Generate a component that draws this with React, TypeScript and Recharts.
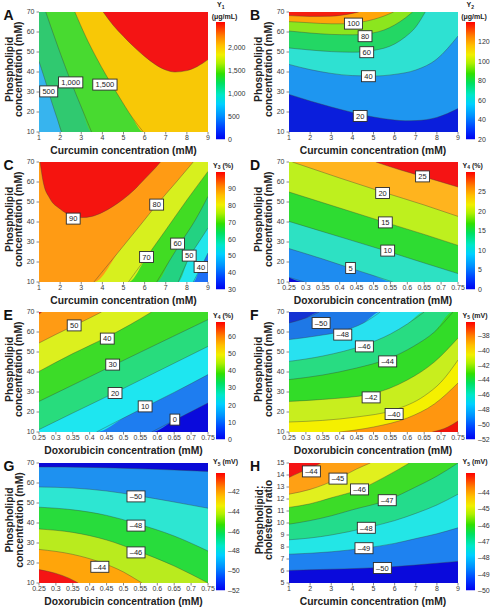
import React from 'react';
import { ComposedChart, Area, Line, Scatter, Bar, XAxis, YAxis } from 'recharts';

type Pt = [number, number];
type Lbl = { x: number; y: number; v: number };

// ---------- shared axis ticks ----------
const curcuminTicks = [1, 2, 3, 4, 5, 6, 7, 8, 9];
const doxTicks = [0.25, 0.3, 0.35, 0.4, 0.45, 0.5, 0.55, 0.6, 0.65, 0.7, 0.75];
const lipidTicks = [10, 20, 30, 40, 50, 60, 70];
const ratioTicks = [5, 6, 7, 8, 9, 10, 11, 12, 13, 14, 15];

// ---------- A: Y1 (μg/mL) ----------
const aLevels = [500, 1000, 1500, 2000];
const aC500: Pt[] = [[1, 45.3], [1.3, 35.5], [1.6, 25], [1.85, 17], [2.07, 10]];
const aC1000: Pt[] = [[1.32, 70], [1.9, 52.5], [2.5, 35.5], [3, 22.5], [3.49, 10]];
const aC1500: Pt[] = [[2.7, 70], [3.2, 58], [3.7, 47.5], [4.2, 38], [4.8, 27.5], [5.4, 17.5], [5.94, 10]];
const aC2000: Pt[] = [[4.04, 70], [4.5, 63.5], [5, 57.8], [5.5, 52.5], [6, 47.8], [6.5, 43.8], [7, 41], [7.44, 40], [8, 40.7], [8.5, 42.8], [9, 46.2]];
const aLabels: Lbl[] = [{ x: 1.46, y: 30.3, v: 500 }, { x: 2.5, y: 34.8, v: 1000 }, { x: 4.12, y: 33.7, v: 1500 }];
const aBarTicks = [0, 500, 1000, 1500, 2000];

// ---------- B: Y2 (μg/mL) ----------
const bLevels = [20, 40, 60, 80, 100, 120];
const bC20: Pt[] = [[1, 28.8], [2, 25.5], [3, 22.5], [4, 19.8], [5, 17.5], [6, 16], [6.5, 15.6], [7, 15.7], [8, 17.3], [9, 21.7]];
const bC40: Pt[] = [[1, 43.8], [2, 41.2], [3, 39.3], [4, 38.2], [5, 38], [6, 38.8], [7, 41], [8, 46.5], [9, 58]];
const bC60: Pt[] = [[1, 52], [2, 51], [3, 50.2], [4, 49.9], [5, 50.8], [6, 54], [6.5, 57.5], [7, 62.5], [7.45, 70]];
const bC80: Pt[] = [[1, 60.5], [2, 59.5], [3, 58.8], [4, 58.6], [5, 59.6], [5.5, 61], [6, 63.5], [6.5, 67], [6.85, 70]];
const bC100: Pt[] = [[1, 65.2], [2, 64.6], [3, 64.1], [3.5, 64.1], [4, 64.4], [4.5, 65.1], [5, 66.3], [5.5, 68], [5.95, 70]];
const bC120: Pt[] = [[1, 68.2], [2, 67.8], [3, 67.9], [3.5, 68.4], [4, 69.3], [4.3, 70]];
const bLabels: Lbl[] = [{ x: 4.05, y: 64.2, v: 100 }, { x: 4.6, y: 57.9, v: 80 }, { x: 4.68, y: 49.9, v: 60 }, { x: 4.76, y: 37.9, v: 40 }, { x: 4.37, y: 18, v: 20 }];
const bBarTicks = [20, 40, 60, 80, 100, 120];

// ---------- C: Y3 (%) ----------
const cLevels = [40, 50, 60, 70, 80, 90];
const cC40: Pt[] = [[8.3, 10], [8.6, 16], [9, 24.5]];
const cC50: Pt[] = [[7.59, 10], [8.1, 22], [8.6, 30.5], [9, 37]];
const cC60: Pt[] = [[6.57, 10], [7.2, 21], [7.7, 29.5], [8.4, 41], [9, 52.8]];
const cC70: Pt[] = [[5.23, 10], [6.09, 22.5], [7, 36], [8, 51], [9, 65.3]];
const cC80: Pt[] = [[3.6, 10], [4.8, 25.5], [5.8, 38.5], [6.6, 49], [7.5, 60], [8.3, 70]];
const cC90: Pt[] = [[1.05, 70], [1.2, 60], [1.5, 52], [2, 46.5], [2.5, 43.3], [3, 42.2], [3.5, 42.8], [4, 44.8], [4.5, 47.8], [5, 51.5], [5.5, 56], [6, 61.5], [6.5, 67], [6.75, 70]];
const cLabels: Lbl[] = [{ x: 2.62, y: 41.7, v: 90 }, { x: 6.57, y: 48.7, v: 80 }, { x: 6.09, y: 22.5, v: 70 }, { x: 7.56, y: 29.2, v: 60 }, { x: 8.11, y: 23.2, v: 50 }, { x: 8.67, y: 17.5, v: 40 }];
const cBarTicks = [30, 40, 50, 60, 70, 80, 90];

// ---------- D: Y4 (%) ----------
const dLevels = [0, 5, 10, 15, 20, 25];
const dC0: Pt[] = [[0.25, 12.3], [0.296, 10]];
const dC5: Pt[] = [[0.25, 26.7], [0.35, 21.5], [0.432, 16.9], [0.5, 13.2], [0.557, 10]];
const dC10: Pt[] = [[0.25, 40.3], [0.4, 32.6], [0.542, 25.3], [0.65, 19.5], [0.75, 14.2]];
const dC15: Pt[] = [[0.25, 55], [0.4, 47], [0.535, 39.8], [0.65, 33.8], [0.75, 28.3]];
const dC20: Pt[] = [[0.26, 70], [0.4, 62], [0.527, 55], [0.65, 48.5], [0.75, 42.8]];
const dC25: Pt[] = [[0.507, 70], [0.58, 66], [0.645, 62.8], [0.75, 57.5]];
const dLabels: Lbl[] = [{ x: 0.645, y: 62.8, v: 25 }, { x: 0.527, y: 54.5, v: 20 }, { x: 0.535, y: 39.8, v: 15 }, { x: 0.542, y: 25.7, v: 10 }, { x: 0.432, y: 17, v: 5 }];
const dBarTicks = [0, 5, 10, 15, 20, 25];

// ---------- E: Y4 (%) ----------
const eLevels = [0, 10, 20, 30, 40, 50, 60];
const eC0: Pt[] = [[0.583, 10], [0.652, 16], [0.75, 24.5]];
const eC10: Pt[] = [[0.42, 10], [0.5, 17], [0.564, 22.5], [0.65, 29.8], [0.75, 38.7]];
const eC20: Pt[] = [[0.25, 11.2], [0.35, 19.5], [0.475, 29.7], [0.6, 40.2], [0.75, 52.8]];
const eC30: Pt[] = [[0.25, 25.3], [0.35, 33.5], [0.468, 43.2], [0.6, 54], [0.75, 66.2]];
const eC40: Pt[] = [[0.25, 40.3], [0.35, 49.2], [0.452, 57.5], [0.52, 63.7], [0.583, 70]];
const eC50: Pt[] = [[0.25, 54.5], [0.3, 58.8], [0.354, 63.2], [0.4, 67], [0.435, 70]];
const eC60: Pt[] = [[0.25, 69], [0.258, 70]];
const eLabels: Lbl[] = [{ x: 0.354, y: 63.3, v: 50 }, { x: 0.452, y: 56.7, v: 40 }, { x: 0.468, y: 43.7, v: 30 }, { x: 0.475, y: 29.5, v: 20 }, { x: 0.564, y: 22.8, v: 10 }, { x: 0.652, y: 16.2, v: 0 }];
const eBarTicks = [0, 10, 20, 30, 40, 50, 60];

// ---------- F: Y5 (mV) ----------
const fLevels = [-50, -48, -46, -44, -42, -40, -38, -36];
const fC50: Pt[] = [[0.25, 64.5], [0.3, 67], [0.34, 70]];
const fC48: Pt[] = [[0.25, 56.2], [0.33, 58], [0.409, 60.5], [0.47, 64.5], [0.52, 70]];
const fC46: Pt[] = [[0.25, 45.3], [0.35, 48], [0.473, 53.5], [0.55, 59], [0.6, 64], [0.65, 70]];
const fC44: Pt[] = [[0.25, 36.2], [0.35, 38.5], [0.45, 42], [0.542, 46.5], [0.62, 53], [0.68, 60], [0.735, 70]];
const fC42: Pt[] = [[0.25, 25.3], [0.35, 26.3], [0.493, 29], [0.6, 36], [0.68, 45], [0.75, 57]];
const fC40: Pt[] = [[0.25, 15], [0.35, 15.8], [0.45, 17.5], [0.561, 21], [0.65, 28], [0.7, 35], [0.75, 46]];
const fC38: Pt[] = [[0.4, 10], [0.5, 12.5], [0.6, 17], [0.68, 24], [0.75, 34.5]];
const fC36: Pt[] = [[0.674, 10], [0.72, 12.5], [0.75, 15.5]];
const fLabels: Lbl[] = [{ x: 0.345, y: 64.5, v: -50 }, { x: 0.409, y: 58.7, v: -48 }, { x: 0.473, y: 52.8, v: -46 }, { x: 0.542, y: 45.3, v: -44 }, { x: 0.493, y: 27.3, v: -42 }, { x: 0.561, y: 19, v: -40 }];
const fBarTicks = [-52, -50, -48, -46, -44, -42, -40, -38];

// ---------- G: Y5 (mV) ----------
const gLevels = [-52, -50, -48, -46, -44, -42];
const gC52: Pt[] = [[0.25, 68], [0.4, 67.8], [0.55, 67.1], [0.65, 66.5], [0.75, 65.8]];
const gC50: Pt[] = [[0.25, 58], [0.35, 57.5], [0.45, 56], [0.537, 53.8], [0.65, 50.5], [0.75, 47.4]];
const gC48: Pt[] = [[0.25, 47.9], [0.35, 46.6], [0.45, 43.8], [0.537, 39.8], [0.65, 33.5], [0.75, 26]];
const gC46: Pt[] = [[0.25, 37], [0.35, 35.3], [0.45, 31.5], [0.537, 26.3], [0.65, 18.5], [0.75, 10]];
const gC44: Pt[] = [[0.25, 26.8], [0.35, 24.3], [0.43, 20.5], [0.5, 15.5], [0.55, 10.5], [0.555, 10]];
const gC42: Pt[] = [[0.25, 16.7], [0.3, 14.8], [0.34, 12.3], [0.366, 10]];
const gLabels: Lbl[] = [{ x: 0.537, y: 53.3, v: -50 }, { x: 0.537, y: 38.7, v: -48 }, { x: 0.537, y: 25.3, v: -46 }, { x: 0.43, y: 18.1, v: -44 }];
const gBarTicks = [-52, -50, -48, -46, -44, -42];

// ---------- H: Y5 (mV) ----------
const hLevels = [-50, -49, -48, -47, -46, -45, -44];
const hC50: Pt[] = [[1, 6.05], [3, 6.15], [5.42, 6.3], [7, 6.5], [9, 6.8]];
const hC49: Pt[] = [[1, 7.4], [3, 7.6], [4.55, 7.9], [6, 8.3], [7, 8.7], [8, 9.1], [9, 9.6]];
const hC48: Pt[] = [[1, 8.6], [2, 8.75], [3, 9], [4.66, 9.6], [6, 10.2], [7, 10.8], [8, 11.5], [9, 12.4]];
const hC47: Pt[] = [[1, 9.9], [2, 10.2], [3, 10.6], [4, 11.1], [5.65, 11.9], [7, 13], [8, 13.9], [9, 15]];
const hC46: Pt[] = [[1, 11.3], [2, 11.6], [3, 12.1], [4.34, 12.8], [5.5, 13.8], [6.7, 15]];
const hC45: Pt[] = [[1, 12.4], [2, 12.8], [3.32, 13.7], [4.2, 14.5], [4.85, 15]];
const hC44: Pt[] = [[1, 13.8], [1.5, 14.2], [2.06, 14.6], [2.5, 15]];
const hLabels: Lbl[] = [{ x: 2.06, y: 14.3, v: -44 }, { x: 3.32, y: 13.7, v: -45 }, { x: 4.34, y: 12.8, v: -46 }, { x: 5.65, y: 11.9, v: -47 }, { x: 4.66, y: 9.6, v: -48 }, { x: 4.55, y: 7.9, v: -49 }, { x: 5.42, y: 6.25, v: -50 }];
const hBarTicks = [-50, -49, -48, -47, -46, -45, -44];

// ---------- styling ----------
const FONT = "'Liberation Sans', Arial, Helvetica, sans-serif";
const PLOT_W = 169;
const PLOT_H = 120;
const COL_X = [39, 288.5];
const ROW_Y = [12.3, 162.3, 312.3, 463];

// colour scale of the legend bars, bottom (0) to top (1)
const RAMP: [number, string][] = [
  [0, '#0000f0'], [0.1, '#0040ff'], [0.2, '#0090ff'], [0.3, '#00d0ff'], [0.38, '#00e8c8'],
  [0.48, '#00e060'], [0.56, '#30e000'], [0.65, '#b0f000'], [0.72, '#f0f000'], [0.8, '#ffc000'],
  [0.88, '#ff8000'], [1, '#ff0000'],
];

type Contour = { level: number; pts: Pt[]; padL?: boolean; padR?: boolean };
type Spec = {
  id: string;
  letter: string;
  col: number;
  row: number;
  xDomain: [number, number];
  yDomain: [number, number];
  xTicks: number[];
  yTicks: number[];
  side: 'above' | 'below';
  contours: Contour[];
  colors: string[];
  labels: Lbl[];
  barMin: number;
  barMax: number;
  barTicks: number[];
  comma?: boolean;
  resp: string;
  unit: string;
  twoLineTitle?: boolean;
  titleDy: number;
  xTitle: string;
  yTitle: [string, string];
};

const mk = (levels: number[], list: { pts: Pt[]; padL?: boolean; padR?: boolean }[]): Contour[] =>
  list.map((c, i) => ({ level: levels[i], ...c }));

const specs: Spec[] = [
  {
    id: 'A', letter: 'A', col: 0, row: 0, xDomain: [1, 9], yDomain: [10, 70], xTicks: curcuminTicks, yTicks: lipidTicks,
    side: 'above',
    contours: mk(aLevels, [{ pts: aC500, padR: true }, { pts: aC1000, padR: true }, { pts: aC1500, padR: true }, { pts: aC2000 }]),
    colors: ['#37b4ee', '#30c970', '#48da30', '#f8c806', '#f41414'],
    labels: aLabels, barMin: 0, barMax: 2550, barTicks: aBarTicks, comma: true,
    resp: '1', unit: '(μg/mL)', twoLineTitle: true, titleDy: 0,
    xTitle: 'Curcumin concentration (mM)', yTitle: ['Phospholipid', 'concentration (mM)'],
  },
  {
    id: 'B', letter: 'B', col: 1, row: 0, xDomain: [1, 9], yDomain: [10, 70], xTicks: curcuminTicks, yTicks: lipidTicks,
    side: 'above',
    contours: mk(bLevels, [{ pts: bC20 }, { pts: bC40 }, { pts: bC60 }, { pts: bC80 }, { pts: bC100 }, { pts: bC120 }]),
    colors: ['#0a1edc', '#1e96f0', '#2ee1d2', '#23d764', '#8ce61e', '#ffa50a', '#f51e0f'],
    labels: bLabels, barMin: 20, barMax: 140, barTicks: bBarTicks,
    resp: '2', unit: '(μg/mL)', twoLineTitle: true, titleDy: 0,
    xTitle: 'Curcumin concentration (mM)', yTitle: ['Phospholipid', 'concentration (mM)'],
  },
  {
    id: 'C', letter: 'C', col: 0, row: 1, xDomain: [1, 9], yDomain: [10, 70], xTicks: curcuminTicks, yTicks: lipidTicks,
    side: 'above',
    contours: mk(cLevels, [{ pts: cC40, padL: true }, { pts: cC50, padL: true }, { pts: cC60, padL: true }, { pts: cC70, padL: true }, { pts: cC80, padL: true }, { pts: cC90 }]),
    colors: ['#1e6ef5', '#23e6eb', '#23d282', '#41dc23', '#d7f01e', '#ff9b14', '#f5140f'],
    labels: cLabels, barMin: 30, barMax: 100, barTicks: cBarTicks,
    resp: '3', unit: '(%)', titleDy: 5.2,
    xTitle: 'Curcumin concentration (mM)', yTitle: ['Phospholipid', 'concentration (mM)'],
  },
  {
    id: 'D', letter: 'D', col: 1, row: 1, xDomain: [0.25, 0.75], yDomain: [10, 70], xTicks: doxTicks, yTicks: lipidTicks,
    side: 'above',
    contours: mk(dLevels, [{ pts: dC0, padR: true }, { pts: dC5, padR: true }, { pts: dC10 }, { pts: dC15 }, { pts: dC20 }, { pts: dC25 }]),
    colors: ['#0a0ad2', '#1e8cf0', '#2de1c3', '#2edc32', '#bef01e', '#ffb41e', '#f51414'],
    labels: dLabels, barMin: 0, barMax: 30, barTicks: dBarTicks,
    resp: '4', unit: '(%)', titleDy: 5.2,
    xTitle: 'Doxorubicin concentration (mM)', yTitle: ['Phospholipid', 'concentration (mM)'],
  },
  {
    id: 'E', letter: 'E', col: 0, row: 2, xDomain: [0.25, 0.75], yDomain: [10, 70], xTicks: doxTicks, yTicks: lipidTicks,
    side: 'above',
    contours: mk(eLevels, [{ pts: eC0, padL: true }, { pts: eC10, padL: true }, { pts: eC20 }, { pts: eC30 }, { pts: eC40 }, { pts: eC50 }, { pts: eC60 }]),
    colors: ['#0a0adc', '#1e7df0', '#1ee6f0', '#28dc7d', '#3cdc28', '#dcf01e', '#ff9b14', '#f51414'],
    labels: eLabels, barMin: 0, barMax: 68.4, barTicks: eBarTicks,
    resp: '4', unit: '(%)', titleDy: 5.2,
    xTitle: 'Doxorubicin concentration (mM)', yTitle: ['Phospholipid', 'concentration (mM)'],
  },
  {
    id: 'F', letter: 'F', col: 1, row: 2, xDomain: [0.25, 0.75], yDomain: [10, 70], xTicks: doxTicks, yTicks: lipidTicks,
    side: 'below',
    contours: mk(fLevels, [{ pts: fC50, padR: true }, { pts: fC48, padR: true }, { pts: fC46, padR: true }, { pts: fC44, padR: true }, { pts: fC42 }, { pts: fC40 }, { pts: fC38 }, { pts: fC36 }]),
    colors: ['#1432d2', '#1e78e6', '#28e1f0', '#28dc82', '#32dc28', '#c8ee1e', '#f5f000', '#ff960f', '#f0140a'],
    labels: fLabels, barMin: -52, barMax: -36.2, barTicks: fBarTicks,
    resp: '5', unit: '(mV)', titleDy: 5.2,
    xTitle: 'Doxorubicin concentration (mM)', yTitle: ['Phospholipid', 'concentration (mM)'],
  },
  {
    id: 'G', letter: 'G', col: 0, row: 3, xDomain: [0.25, 0.75], yDomain: [10, 70], xTicks: doxTicks, yTicks: lipidTicks,
    side: 'below',
    contours: mk(gLevels, [{ pts: gC52 }, { pts: gC50 }, { pts: gC48 }, { pts: gC46 }, { pts: gC44 }, { pts: gC42 }]),
    colors: ['#0a0ad7', '#1e91f0', '#2de6d2', '#28dc3c', '#b9eb1e', '#ffa50a', '#f51414'],
    labels: gLabels, barMin: -52, barMax: -40.1, barTicks: gBarTicks,
    resp: '5', unit: '(mV)', titleDy: 1,
    xTitle: 'Doxorubicin concentration (mM)', yTitle: ['Phospholipid', 'concentration (mM)'],
  },
  {
    id: 'H', letter: 'H', col: 1, row: 3, xDomain: [1, 9], yDomain: [5, 15], xTicks: curcuminTicks, yTicks: ratioTicks,
    side: 'above',
    contours: mk(hLevels, [{ pts: hC50 }, { pts: hC49 }, { pts: hC48 }, { pts: hC47 }, { pts: hC46 }, { pts: hC45 }, { pts: hC44 }]),
    colors: ['#0a0adc', '#1e82f0', '#23e6e6', '#23dc8c', '#3cdc28', '#e1f01e', '#ffa014', '#f51414'],
    labels: hLabels, barMin: -50, barMax: -42.8, barTicks: hBarTicks,
    resp: '5', unit: '(mV)', titleDy: 1,
    xTitle: 'Curcumin concentration (mM)', yTitle: ['Phospholipid:', 'cholesterol ratio'],
  },
];

// ---------- helpers ----------
const fmt = (v: number, comma?: boolean) => {
  const s = comma ? Math.abs(v).toLocaleString('en-US') : String(Math.abs(v));
  return v < 0 ? `\u2013${s}` : s;
};

const charW = (ch: string) => (ch === ',' || ch === '.' ? 0.278 : 0.556);
const textW = (s: string, size: number) => s.split('').reduce((a, c) => a + charW(c), 0) * size;

// region of the plot where the response exceeds a contour level
const regionData = (c: Contour, s: Spec) => {
  const [x0, x1] = s.xDomain;
  const [y0, y1] = s.yDomain;
  const edge = s.side === 'above' ? y0 : y1;
  let pts = c.pts.slice();
  if (c.padL) pts = [[x0, edge], ...pts];
  if (c.padR) pts = [...pts, [x1, edge]];
  return pts.map(([x, y]) => ({ x, band: s.side === 'above' ? [y, y1] : [y0, y] }));
};

const LabelBox = (props: any) => {
  const { cx, cy, payload, comma } = props;
  if (cx == null || cy == null) return null;
  const t = fmt(payload.v, comma);
  const fs = 7.5;
  const w = textW(t, fs) + 5.5;
  const h = 11;
  return (
    <g>
      <rect x={cx - w / 2} y={cy - h / 2} width={w} height={h} fill="#ffffff" stroke="#2b2b2b" strokeWidth={0.9} />
      <text x={cx} y={cy + fs * 0.36} textAnchor="middle" fontSize={fs} fill="#222" fontFamily={FONT}>
        {t}
      </text>
    </g>
  );
};

const YW = 32;
const XH = 16;
const MT = 6;
const MR = 12;

function ContourPanel({ s }: { s: Spec }) {
  const px = COL_X[s.col];
  const py = ROW_Y[s.row];
  const base = [
    { x: s.xDomain[0], band: [s.yDomain[0], s.yDomain[1]] },
    { x: s.xDomain[1], band: [s.yDomain[0], s.yDomain[1]] },
  ];
  const tickStyle = { fontSize: 7, fill: '#3a3a3a', fontFamily: FONT };
  return (
    <div style={{ position: 'absolute', left: px - YW, top: py - MT }}>
      <ComposedChart width={YW + PLOT_W + MR} height={MT + PLOT_H + XH} margin={{ top: MT, right: MR, bottom: 0, left: 0 }}>
        <XAxis
          type="number"
          dataKey="x"
          domain={s.xDomain}
          ticks={s.xTicks}
          interval={0}
          allowDataOverflow
          height={XH}
          tickSize={2.5}
          tickMargin={1}
          axisLine={false}
          tickLine={{ stroke: '#888' }}
          tick={tickStyle}
          tickFormatter={(v: number) => String(v)}
        />
        <YAxis
          type="number"
          domain={s.yDomain}
          ticks={s.yTicks}
          interval={0}
          allowDataOverflow
          width={YW}
          tickSize={2.5}
          tickMargin={2}
          axisLine={false}
          tickLine={{ stroke: '#888' }}
          tick={tickStyle}
        />
        <Area data={base} dataKey="band" type="linear" stroke="none" fill={s.colors[0]} fillOpacity={1} isAnimationActive={false} dot={false} activeDot={false} />
        {s.contours.map((c, i) => (
          <Area
            key={`r${i}`}
            data={regionData(c, s)}
            dataKey="band"
            type="monotone"
            stroke="none"
            fill={s.colors[i + 1]}
            fillOpacity={1}
            isAnimationActive={false}
            dot={false}
            activeDot={false}
          />
        ))}
        {s.contours.map((c, i) => (
          <Line
            key={`l${i}`}
            data={c.pts.map(([x, y]) => ({ x, y }))}
            dataKey="y"
            type="monotone"
            stroke="#3a3a3a"
            strokeOpacity={0.75}
            strokeWidth={0.5}
            dot={false}
            activeDot={false}
            isAnimationActive={false}
          />
        ))}
        <Scatter data={s.labels} dataKey="y" isAnimationActive={false} shape={(p: any) => <LabelBox {...p} comma={s.comma} />} />
      </ComposedChart>
    </div>
  );
}

const BAR_W = 9;
const BAR_AW = 30;
const BMT = 6;

function LegendBar({ s }: { s: Spec }) {
  const px = COL_X[s.col];
  const py = ROW_Y[s.row];
  const h = PLOT_H - 2.5;
  const gid = `ramp-${s.id}`;
  return (
    <div style={{ position: 'absolute', left: px + PLOT_W + 8, top: py + 10 - BMT }}>
      <ComposedChart
        width={BAR_W + BAR_AW}
        height={h + BMT * 2}
        data={[{ name: s.id, range: [s.barMin, s.barMax] }]}
        margin={{ top: BMT, right: 0, bottom: BMT, left: 0 }}
        barCategoryGap={0}
      >
        <defs>
          <linearGradient id={gid} x1="0" y1="1" x2="0" y2="0">
            {RAMP.map(([o, c]) => (
              <stop key={o} offset={o} stopColor={c} />
            ))}
          </linearGradient>
        </defs>
        <XAxis dataKey="name" type="category" hide />
        <YAxis
          orientation="right"
          type="number"
          domain={[s.barMin, s.barMax]}
          ticks={s.barTicks}
          interval={0}
          allowDataOverflow
          width={BAR_AW}
          tickSize={0}
          tickMargin={3}
          axisLine={false}
          tickLine={false}
          tick={{ fontSize: 7, fill: '#333', fontFamily: FONT }}
          tickFormatter={(v: number) => fmt(v, s.comma)}
        />
        <Bar dataKey="range" fill={`url(#${gid})`} isAnimationActive={false} />
      </ComposedChart>
    </div>
  );
}

function PanelText({ s }: { s: Spec }) {
  const px = COL_X[s.col];
  const py = ROW_Y[s.row];
  const barLeft = px + PLOT_W + 8;
  const yc = py + 57;
  const t1x = px - 29.5;
  const t2x = px - 20;
  return (
    <g fontFamily={FONT}>
      <text x={s.col === 0 ? 3.5 : 250} y={py + 7.8} fontSize={14} fontWeight="bold" fill="#111">
        {s.letter}
      </text>
      <text x={px + PLOT_W / 2} y={py + PLOT_H + 22} fontSize={10.3} fontWeight="bold" fill="#222" textAnchor="middle">
        {s.xTitle}
      </text>
      <text x={t1x} y={yc} fontSize={10.3} fontWeight="bold" fill="#222" textAnchor="middle" dominantBaseline="central" transform={`rotate(-90 ${t1x} ${yc})`}>
        {s.yTitle[0]}
      </text>
      <text x={t2x} y={yc} fontSize={10.3} fontWeight="bold" fill="#222" textAnchor="middle" dominantBaseline="central" transform={`rotate(-90 ${t2x} ${yc})`}>
        {s.yTitle[1]}
      </text>
      {s.twoLineTitle ? (
        <>
          <text x={barLeft + 1} y={py - 5.3} fontSize={7} fontWeight="bold" fill="#222">
            Y<tspan fontSize={5} dy={1.5}>{s.resp}</tspan>
          </text>
          <text x={barLeft + 8.5} y={py + 7} fontSize={7} fontWeight="bold" fill="#222" textAnchor="middle">
            {s.unit}
          </text>
        </>
      ) : (
        <text x={barLeft - 3} y={py + s.titleDy} fontSize={7} fontWeight="bold" fill="#222">
          Y<tspan fontSize={5} dy={1.5}>{s.resp}</tspan>
          <tspan dy={-1.5}> {s.unit}</tspan>
        </text>
      )}
    </g>
  );
}

export default function App() {
  return (
    <div style={{ position: 'absolute', left: 0, top: 0, width: 491, height: 610, background: '#fff', overflow: 'hidden', fontFamily: FONT }}>
      {specs.map((s) => (
        <ContourPanel key={`p${s.id}`} s={s} />
      ))}
      {specs.map((s) => (
        <LegendBar key={`b${s.id}`} s={s} />
      ))}
      <svg width={491} height={610} style={{ position: 'absolute', left: 0, top: 0, pointerEvents: 'none' }}>
        {specs.map((s) => (
          <PanelText key={`t${s.id}`} s={s} />
        ))}
      </svg>
    </div>
  );
}
